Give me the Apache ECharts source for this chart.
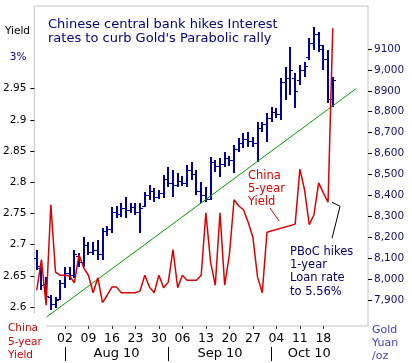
<!DOCTYPE html>
<html><head><meta charset="utf-8">
<script src="https://cdn.jsdelivr.net/npm/echarts@6/dist/echarts.min.js"></script>
<style>html,body{margin:0;padding:0;background:#fff}#c{width:412px;height:363px}</style>
</head><body><div id="c"></div>
<script>
// ---- data ----
const dates = ['2010-07-23',
 '2010-07-26','2010-07-27','2010-07-28','2010-07-29','2010-07-30',
 '2010-08-02','2010-08-03','2010-08-04','2010-08-05','2010-08-06',
 '2010-08-09','2010-08-10','2010-08-11','2010-08-12','2010-08-13',
 '2010-08-16','2010-08-17','2010-08-18','2010-08-19','2010-08-20',
 '2010-08-23','2010-08-24','2010-08-25','2010-08-26','2010-08-27',
 '2010-08-30','2010-08-31','2010-09-01','2010-09-02','2010-09-03',
 '2010-09-06','2010-09-07','2010-09-08','2010-09-09','2010-09-10',
 '2010-09-13','2010-09-14','2010-09-15','2010-09-16','2010-09-17',
 '2010-09-20','2010-09-21','2010-09-22','2010-09-23','2010-09-24',
 '2010-09-27','2010-09-28','2010-09-29','2010-09-30','2010-10-01',
 '2010-10-04','2010-10-05','2010-10-06','2010-10-07','2010-10-08',
 '2010-10-11','2010-10-12','2010-10-13','2010-10-14','2010-10-15',
 '2010-10-18','2010-10-19','2010-10-20','2010-10-21','2010-10-22',
 '2010-10-25','2010-10-26','2010-10-27','2010-10-28','2010-10-29'];
const weekTicks = ['2010-08-02','2010-08-09','2010-08-16','2010-08-23','2010-08-30','2010-09-06',
 '2010-09-13','2010-09-20','2010-09-27','2010-10-04','2010-10-11','2010-10-18'];
const monthStarts = ['2010-08-02','2010-09-01','2010-10-01'];
const monthLabelDates = ['2010-08-17','2010-09-16','2010-10-13'];
const monthLabels = ['Aug 10','Sep 10','Oct 10'];

const goldOpen = [8100,8050,7975,7915,7880,7905,7980,8030,8020,8110,8080,8160,8130,8140,8120,8230,8240,8320,8310,8340,8330,8345,8320,8350,8400,8420,8390,8410,8480,8460,8450,8470,8460,8520,8500,8420,8400,8380,8560,8540,8550,8580,8570,8620,8650,8670,8660,8650,8720,8740,8770,8800,8790,8940,8960,8960,8950,9000,9060,9130,9170,9100,9050,8860];
const goldHigh = [8138,8057,8009,7923,7913,7995,8057,8057,8138,8124,8200,8176,8176,8186,8243,8253,8344,8349,8363,8392,8363,8363,8363,8416,8449,8435,8425,8497,8535,8521,8507,8492,8545,8559,8521,8464,8440,8583,8569,8578,8607,8588,8641,8674,8698,8703,8679,8751,8751,8794,8822,8818,8961,9014,9110,8985,9023,9038,9153,9205,9181,9119,9095,8966];
const goldLow = [8043,7947,7899,7851,7861,7899,7956,7995,8004,8057,8057,8114,8114,8090,8090,8205,8220,8291,8296,8291,8315,8306,8220,8344,8377,8368,8382,8387,8440,8392,8440,8444,8440,8473,8401,8363,8368,8377,8511,8488,8535,8540,8507,8607,8626,8631,8631,8559,8703,8655,8751,8770,8760,8856,8880,8818,8928,8966,9047,9095,9086,9000,8842,8822];
const goldClose = [8060,7970,7920,7880,7900,7980,8030,8020,8120,8080,8160,8130,8140,8120,8230,8240,8320,8310,8340,8330,8345,8320,8340,8400,8420,8390,8410,8480,8460,8450,8470,8460,8520,8500,8420,8400,8380,8560,8540,8550,8580,8570,8620,8650,8670,8660,8650,8720,8740,8770,8800,8790,8940,8960,9000,8900,9000,9020,9130,9170,9120,9050,8860,8950];

const yield5y = [2.627,2.676,2.603,2.764,2.656,2.651,2.651,2.650,2.639,2.684,
 2.663,2.651,2.623,2.647,2.607,2.619,2.632,2.632,2.623,2.623,
 2.623,2.623,2.626,2.651,2.632,2.623,2.651,2.631,2.640,2.692,
 2.631,2.651,2.643,2.643,2.643,2.651,2.751,2.672,2.635,2.751,
 2.635,2.684,2.772,2.762,2.756,2.736,2.712,2.648,2.623,2.720,
 null,null,null,null,null,2.733,2.821,2.788,2.732,2.748,
 2.799,2.783,2.768,3.047,null,null,null,null,null,null,null];

const trendIdx = [2, 68];
const trendVal = [7816, 8911];

const yieldTicks = [2.6,2.65,2.7,2.75,2.8,2.85,2.9,2.95,3.0];
const yieldTickText = ['2.6','2.65','2.7','2.75','2.8','2.85','2.9','2.95','3%'];
const goldTicks = [7900,8000,8100,8200,8300,8400,8500,8600,8700,8800,8900,9000,9100];
const goldTickText = ['7,900','8,000','8,100','8,200','8,300','8,400','8,500','8,600','8,700','8,800','8900','9,000','9100'];

// ---- chart ----
const FONT = 'DejaVu Sans';
const NAVY = '#0000a0';
const chart = echarts.init(document.getElementById('c'), null, {renderer: 'canvas'});

const ohlc = goldHigh.map((h, i) => [i, goldOpen[i], h, goldLow[i], goldClose[i]]);
const trend = dates.map((d, i) => {
  const k = trendIdx.indexOf(i);
  return k >= 0 ? trendVal[k] : null;
});

const option = {
  animation: false,
  backgroundColor: '#fff',
  title: {
    text: "Chinese central bank hikes Interest\nrates to curb Gold's Parabolic rally",
    left: 48, top: 18, padding: 0,
    textStyle: {fontFamily: FONT, fontSize: 13, fontWeight: 'normal', color: '#000080', lineHeight: 13.5}
  },
  grid: {left: 32, right: 44, top: 6, bottom: 37, show: true, borderColor: '#c4c4c4', borderWidth: 1},
  xAxis: [
    {
      type: 'category', data: dates, boundaryGap: true, position: 'bottom',
      axisLine: {show: false},
      axisTick: {show: true, alignWithLabel: true, length: 3,
        interval: (i, v) => weekTicks.includes(v), lineStyle: {color: '#333'}},
      axisLabel: {interval: (i, v) => weekTicks.includes(v), formatter: v => v.slice(8),
        margin: 6, fontFamily: FONT, fontSize: 12.5, color: '#000'},
      splitLine: {show: false}
    },
    {
      type: 'category', data: dates, boundaryGap: true, position: 'bottom', offset: 21,
      axisLine: {show: false},
      axisTick: {show: true, alignWithLabel: true, length: 14,
        interval: (i, v) => monthStarts.includes(v), lineStyle: {color: '#000'}},
      axisLabel: {interval: (i, v) => monthLabelDates.includes(v),
        formatter: v => { const k = monthLabelDates.indexOf(v); return k >= 0 ? monthLabels[k] : ''; },
        margin: 0, fontFamily: FONT, fontSize: 13, color: '#000'},
      splitLine: {show: false}
    }
  ],
  yAxis: [
    {
      type: 'value', position: 'left', min: 2.5697, max: 3.0825,
      axisLine: {show: false}, splitLine: {show: false},
      axisTick: {show: true, customValues: yieldTicks.filter(v => v < 2.99), length: 4, lineStyle: {color: '#000'}},
      axisLabel: {customValues: yieldTicks, margin: 8, fontFamily: FONT, fontSize: 10.5,
        formatter: v => { const k = yieldTicks.findIndex(t => Math.abs(t - v) < 1e-6); return k >= 0 ? yieldTickText[k] : ''; },
        color: v => (Math.abs(v - 3) < 1e-6 ? '#000080' : '#000')}
    },
    {
      type: 'value', position: 'right', min: 7774.6, max: 9305.8,
      axisLine: {show: false}, splitLine: {show: false},
      axisTick: {show: true, customValues: goldTicks, length: 4, lineStyle: {color: '#000'}},
      axisLabel: {customValues: goldTicks, margin: 6, fontFamily: FONT, fontSize: 10.5, color: '#10106a',
        formatter: v => { const k = goldTicks.indexOf(v); return k >= 0 ? goldTickText[k] : ''; }}
    }
  ],
  series: [
    {
      type: 'custom', name: 'Gold', xAxisIndex: 0, yAxisIndex: 1, data: ohlc,
      encode: {x: 0, y: [1, 2, 3, 4]},
      renderItem: function (params, api) {
        const i = api.value(0);
        const o = api.coord([i, api.value(1)]);
        const h = api.coord([i, api.value(2)]);
        const l = api.coord([i, api.value(3)]);
        const c = api.coord([i, api.value(4)]);
        const x = Math.round(h[0]);
        return {type: 'group', children: [
          {type: 'line', shape: {x1: x, y1: Math.round(h[1]), x2: x, y2: Math.round(l[1])}, style: {stroke: NAVY, lineWidth: 2}},
          {type: 'line', shape: {x1: x - 3, y1: Math.round(o[1]) + 0.5, x2: x, y2: Math.round(o[1]) + 0.5}, style: {stroke: NAVY, lineWidth: 1}},
          {type: 'line', shape: {x1: x, y1: Math.round(c[1]) + 0.5, x2: x + 3, y2: Math.round(c[1]) + 0.5}, style: {stroke: NAVY, lineWidth: 1}}
        ]};
      },
      z: 2
    },
    {
      type: 'line', name: 'Trend', xAxisIndex: 0, yAxisIndex: 1, data: trend, connectNulls: true,
      showSymbol: false, symbol: 'none', lineStyle: {color: '#00a000', width: 1}, z: 3
    },
    {
      type: 'line', name: 'China 5-year Yield', xAxisIndex: 0, yAxisIndex: 0, data: yield5y, connectNulls: true,
      showSymbol: false, symbol: 'none', lineStyle: {color: '#dd0000', width: 1.5}, z: 4
    }
  ]
};
chart.setOption(option);

const anchor = chart.convertToPixel({xAxisIndex: 0, yAxisIndex: 0}, [dates[62], yield5y[62]]);
const ax = anchor[0], ay = anchor[1];
chart.setOption({
  graphic: [
    {type: 'text', left: 5, top: 26, z: 50, style: {text: 'Yield', fill: '#000', font: '10.5px "DejaVu Sans"'}},
    {type: 'text', left: 248, top: 170, z: 50, style: {text: 'China\n5-year\nYield', fill: '#e00000', font: '11.5px "DejaVu Sans"', lineHeight: 13}},
    {type: 'line', z: 50, shape: {x1: 270, y1: 208, x2: 279, y2: 221}, style: {stroke: '#e00000', lineWidth: 1}},
    {type: 'text', left: 290, top: 245, z: 50, style: {text: 'PBoC hikes\n1-year\nLoan rate\nto 5.56%', fill: '#000066', font: '11.5px "DejaVu Sans"', lineHeight: 13.4}},
    {type: 'polyline', z: 50, shape: {points: [[ax + 4, ay], [ax + 12, ay + 4], [ax + 4, ay + 36]]}, style: {stroke: '#000', lineWidth: 1, fill: null}},
    {type: 'rect', z: 100, shape: {x: 0, y: 313, width: 46.5, height: 50}, style: {fill: '#fff'}},
    {type: 'text', left: 8, top: 322, z: 101, style: {text: 'China\n5-year\nYield', fill: '#d40000', font: '10.5px "DejaVu Sans"', lineHeight: 13.3}},
    {type: 'text', left: 372, top: 324, z: 101, style: {text: 'Gold\nYuan\n/oz', fill: '#4040cc', font: '11px "DejaVu Sans"', lineHeight: 13}}
  ]
});
</script>
</body></html>
